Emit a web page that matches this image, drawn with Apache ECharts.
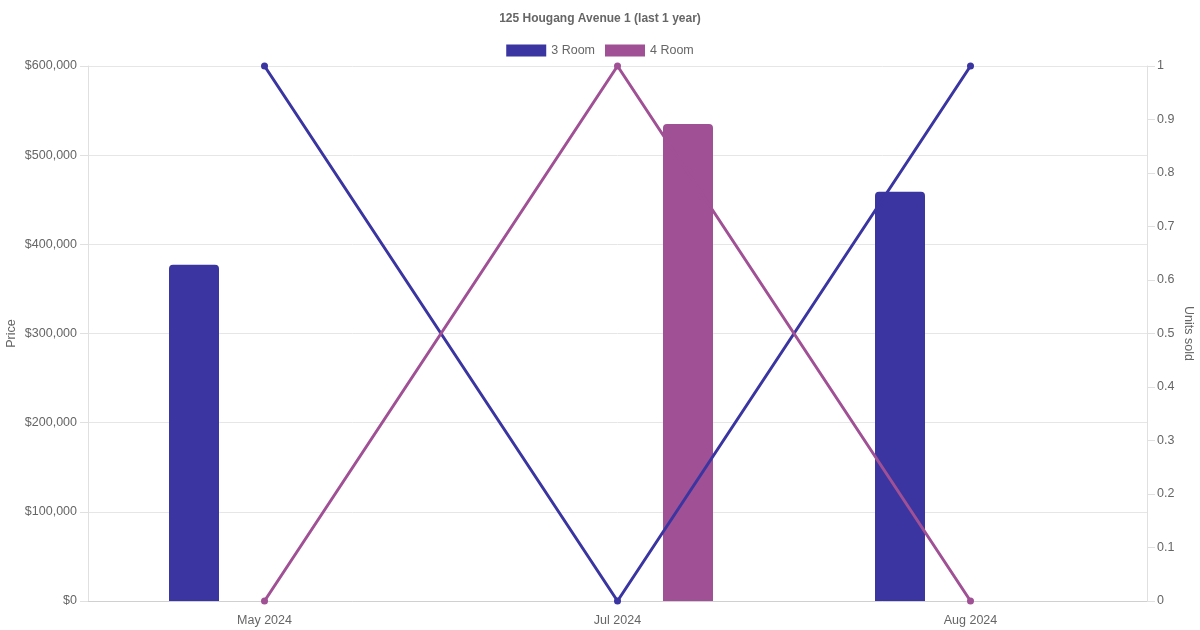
<!DOCTYPE html>
<html>
<head>
<meta charset="utf-8">
<script src="https://cdn.jsdelivr.net/npm/echarts@6/dist/echarts.min.js"></script>
<style>html,body{margin:0;padding:0;background:#fff}#c{width:1200px;height:630px}</style>
</head>
<body>
<div id="c"></div>
<script>
const categories = ['May 2024', 'Jul 2024', 'Aug 2024'];
const price3Room = [377000, null, 459000];
const price4Room = [null, 535000, null];
const units3Room = [1, 0, 1];
const units4Room = [0, 1, 0];
const seriesNames = ['3 Room', '4 Room'];
const colors = ['#3a35a0', '#a05094'];

const font = 'Liberation Sans, Arial, sans-serif';
const fs = 12.5;
const chart = echarts.init(document.getElementById('c'));
chart.setOption({
  animation: false,
  textStyle: { fontFamily: font },
  title: {
    text: '125 Hougang Avenue 1 (last 1 year)',
    left: 'center', top: 8,
    textStyle: { fontSize: 12, fontWeight: 'bold', color: '#666', fontFamily: font }
  },
  legend: {
    top: 39, left: 'center',
    itemWidth: 40, itemHeight: 12, itemGap: 10,
    data: seriesNames.map(n => ({ name: n, icon: 'rect' })),
    textStyle: { fontSize: fs, color: '#666', fontFamily: font }
  },
  grid: { left: 88, right: 53, top: 66, bottom: 29, containLabel: false, outerBoundsMode: 'none' },
  xAxis: {
    type: 'category',
    data: categories,
    axisLine: { show: true, lineStyle: { color: '#d0d0d0', width: 1 } },
    axisTick: { show: false },
    axisLabel: { color: '#666', fontSize: fs, margin: 13, fontFamily: font },
    splitLine: { show: false }
  },
  yAxis: [
    {
      type: 'value', min: 0, max: 600000, interval: 100000,
      name: 'Price', nameLocation: 'middle', nameGap: 70, nameRotate: 90, nameMoveOverlap: false,
      nameTextStyle: { color: '#666', fontSize: fs, fontFamily: font },
      axisLine: { show: true, lineStyle: { color: '#e0e0e0' } },
      axisTick: { show: true, length: 8, lineStyle: { color: '#e0e0e0' } },
      axisLabel: { color: '#666', fontSize: fs, margin: 11, fontFamily: font,
        formatter: v => '$' + v.toLocaleString('en-US') },
      splitLine: { show: true, lineStyle: { color: '#e6e6e6' } }
    },
    {
      type: 'value', min: 0, max: 1, interval: 0.1, position: 'right',
      name: 'Units sold', nameLocation: 'middle', nameGap: 35, nameRotate: -90, nameMoveOverlap: false,
      nameTextStyle: { color: '#666', fontSize: fs, fontFamily: font },
      axisLine: { show: true, lineStyle: { color: '#e0e0e0' } },
      axisTick: { show: true, length: 8, lineStyle: { color: '#e0e0e0' } },
      axisLabel: { color: '#666', fontSize: fs, margin: 10, fontFamily: font,
        formatter: v => String(Math.round(v * 10) / 10) },
      splitLine: { show: false }
    }
  ],
  series: [
    { name: seriesNames[0], type: 'bar', yAxisIndex: 0, data: price3Room,
      barWidth: 50, barGap: '182%', itemStyle: { color: colors[0], borderRadius: [4, 4, 0, 0] }, z: 2 },
    { name: seriesNames[1], type: 'bar', yAxisIndex: 0, data: price4Room,
      barWidth: 50, barGap: '182%', itemStyle: { color: colors[1], borderRadius: [4, 4, 0, 0] }, z: 2 },
    { name: seriesNames[0], type: 'line', yAxisIndex: 1, data: units3Room,
      symbol: 'circle', symbolSize: 7, lineStyle: { color: colors[0], width: 3 },
      itemStyle: { color: colors[0] }, z: 3 },
    { name: seriesNames[1], type: 'line', yAxisIndex: 1, data: units4Room,
      symbol: 'circle', symbolSize: 7, lineStyle: { color: colors[1], width: 3 },
      itemStyle: { color: colors[1] }, z: 3 }
  ]
});
</script>
</body>
</html>
